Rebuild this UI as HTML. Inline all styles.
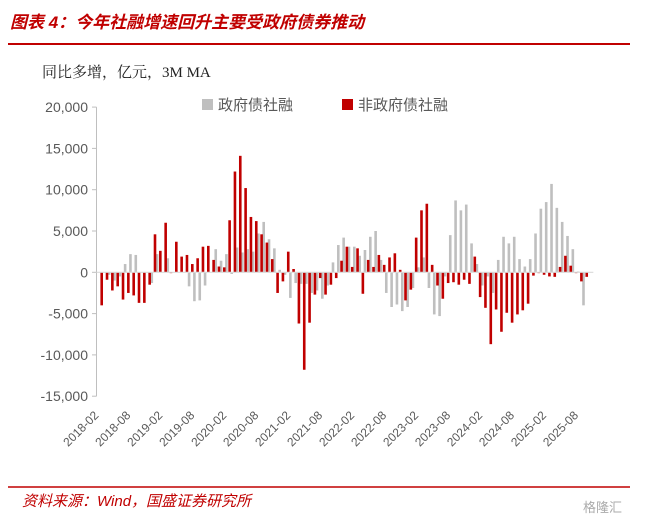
<!DOCTYPE html>
<html><head><meta charset="utf-8"><style>
body{margin:0;background:#fff;width:651px;height:525px;overflow:hidden;font-family:"Liberation Sans","Noto Sans CJK SC",sans-serif;}
svg{display:block}
</style></head><body>
<svg width="651" height="525" xmlns="http://www.w3.org/2000/svg">
<text x="10" y="28" fill="#c00000" font-size="17" font-style="italic" font-weight="bold" font-family="Liberation Sans, Noto Sans CJK SC, sans-serif">图表 4：今年社融增速回升主要受政府债券推动</text>
<line x1="8" y1="44" x2="630" y2="44" stroke="#c00000" stroke-width="2"/>
<text x="42" y="77" fill="#222" font-size="15" font-family="Liberation Serif, Noto Serif CJK SC, serif">同比多增，亿元，3M MA</text>
<rect x="202" y="99" width="11" height="11" fill="#bfbfbf"/>
<text x="218" y="110" fill="#595959" font-size="15">政府债社融</text>
<rect x="342" y="99" width="11" height="11" fill="#c00000"/>
<text x="358" y="110" fill="#595959" font-size="15">非政府债社融</text>
<g id="axes"></g>
<g id="bars"></g>
<line x1="8" y1="487" x2="630" y2="487" stroke="#c00000" stroke-width="1.5"/>
<text x="22" y="506" fill="#c00000" font-size="15" font-style="italic">资料来源：Wind，国盛证券研究所</text>
<text x="583" y="512" fill="#aaa" font-size="13">格隆汇</text>
</svg>
<script>
const startYear=2018, startMonth=2;
const govValues=[0,-300,-1000,-500,1000,2200,2100,0,0,-1300,2200,0,1700,0,0,0,-1700,-3500,-3400,-1600,0,2800,1400,2200,-200,3000,2400,2800,2500,4700,6100,4000,2900,300,-300,-3100,-1300,-1400,-1400,-2500,-2200,-3200,-1600,1200,3300,4200,3100,3100,2000,2700,4300,5000,1500,-2500,-4200,-3900,-4700,-4200,-1900,600,1800,-1900,-5100,-5300,-500,4500,8700,7500,8200,3500,1000,-1600,-500,-2500,1500,4300,3500,4300,1600,700,1600,4700,7700,8500,10700,7800,6100,4400,2800,100,-4000,0];
const nonGovValues=[-4000,-900,-2200,-1700,-3300,-2500,-2800,-3700,-3700,-1500,4600,2600,6000,-100,3700,1900,2100,1000,1700,3100,3200,1500,700,600,6300,12200,14100,10200,6700,6200,4600,3600,1600,-2500,-1100,2500,400,-6200,-11800,-6100,-2700,-700,-2700,-1500,-700,1400,3100,650,2900,-2600,1500,650,2100,900,1800,2300,300,-3400,-2100,4200,7500,8300,900,-1600,-3200,-1300,-1200,-1500,-900,-1400,1900,-3000,-4300,-8700,-4500,-7200,-4900,-6100,-5100,-4600,-3800,-400,-100,-300,-500,-550,650,2000,800,-100,-1100,-550];
const yTicks=[20000,15000,10000,5000,0,-5000,-10000,-15000];
const NS='http://www.w3.org/2000/svg';
const x0=102.3, step=5.33, bw=2.6;
function xPos(i){return x0+step*i;}
function yPos(v){return 272.3-v*41.3/5000;}
function mk(tag,attrs,parent){const e=document.createElementNS(NS,tag);for(const k in attrs)e.setAttribute(k,attrs[k]);parent.appendChild(e);return e;}
const axes=document.getElementById('axes'), bars=document.getElementById('bars');
const yl=mk('line',{x1:96.5,y1:yPos(20000),x2:96.5,y2:yPos(-15000),stroke:'#bfbfbf','stroke-width':1},axes);


yTicks.forEach(v=>{
  const t=mk('line',{x1:92,y1:yPos(v),x2:96.5,y2:yPos(v),stroke:'#bfbfbf'},axes);
  
  
  const l=mk('text',{x:88,y:yPos(v)+5,'text-anchor':'end',fill:'#595959','font-size':14},axes);
  l.textContent=v.toLocaleString('en-US');
  
  
});
const n=nonGovValues.length;
for(let i=0;i<n;i++){
  const xc=xPos(i);
  const g=govValues[i], r=nonGovValues[i];
  const gb=mk('rect',{x:xc+0.2,y:Math.min(yPos(g),yPos(0)),width:bw,height:Math.abs(yPos(g)-yPos(0)),fill:'#bfbfbf'},bars);
  
  
  const rb=mk('rect',{x:xc-bw/2-0.6,y:Math.min(yPos(r),yPos(0)),width:bw,height:Math.abs(yPos(r)-yPos(0)),fill:'#c00000'},bars);
  
  
  if(i%6===0){
    const m=(startMonth-1+i), yr=startYear+Math.floor(m/12), mo=m%12+1;
    const lx=xc-3, ly=416;
    const tl=mk('text',{x:lx,y:ly,'text-anchor':'end',fill:'#595959','font-size':12,transform:`rotate(-45 ${lx} ${ly})`},axes);
    tl.textContent=yr+'-'+String(mo).padStart(2,'0');
    
    
  }
}
const zl=mk('line',{x1:96.5,y1:yPos(0),x2:xPos(n-1)+6,y2:yPos(0),stroke:'#d9d9d9','stroke-width':1.2},bars);


</script>
</body></html>
